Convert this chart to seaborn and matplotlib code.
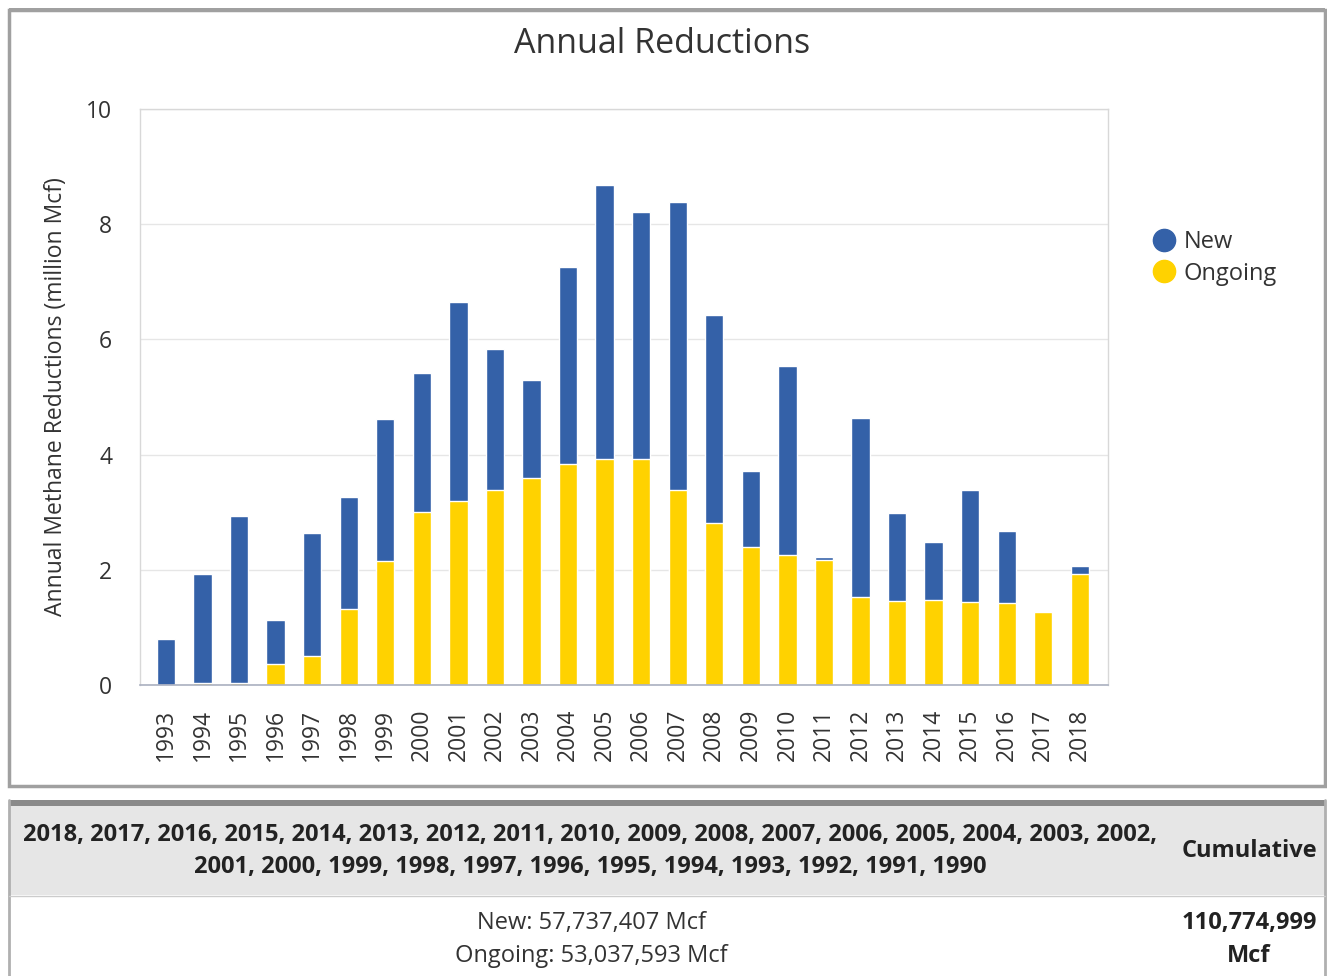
import numpy as np
import pandas as pd
import matplotlib
matplotlib.use("Agg")
import matplotlib.pyplot as plt
from matplotlib.patches import Rectangle
from matplotlib.lines import Line2D
import seaborn as sns

years = [str(y) for y in range(1993, 2019)]
ongoing = [0.0, 0.03, 0.03, 0.36, 0.51, 1.32, 2.16, 3.00, 3.20, 3.38, 3.59, 3.83, 3.92,
           3.93, 3.38, 2.81, 2.39, 2.26, 2.17, 1.53, 1.45, 1.47, 1.44, 1.42, 1.26, 1.93]
new = [0.79, 1.89, 2.90, 0.77, 2.13, 1.94, 2.45, 2.42, 3.45, 2.46, 1.71, 3.42, 4.76,
       4.28, 5.00, 3.62, 1.33, 3.28, 0.05, 3.11, 1.53, 1.02, 1.94, 1.25, 0.0, 0.14]
header_years = "2018, 2017, 2016, 2015, 2014, 2013, 2012, 2011, 2010, 2009, 2008, 2007, 2006, 2005, 2004, 2003, 2002,\n2001, 2000, 1999, 1998, 1997, 1996, 1995, 1994, 1993, 1992, 1991, 1990"
summary = "New: 57,737,407 Mcf\nOngoing: 53,037,593 Mcf"
cumulative = "110,774,999\nMcf"

blue = "#3461a8"
yellow = "#ffd200"

sns.set_style("white")
plt.rcParams["font.family"] = ["Open Sans", "DejaVu Sans"]

df = pd.DataFrame({"year": years, "ongoing": ongoing, "new": new})
df["total"] = df["ongoing"] + df["new"]

W, H = 1327, 976
fig = plt.figure(figsize=(W / 100, H / 100), dpi=100)

def fx(x):
    return x / W

def fy(y):
    return 1 - y / H

ax = fig.add_axes([fx(140), fy(685), fx(1108) - fx(140), fy(109) - fy(685)])

# stacked bars: total in blue, ongoing drawn over it in yellow
sns.barplot(data=df, x="year", y="total", color=blue, width=0.5, saturation=1,
            edgecolor="white", linewidth=1, ax=ax)
sns.barplot(data=df, x="year", y="ongoing", color=yellow, width=0.5, saturation=1,
            edgecolor="white", linewidth=1, ax=ax)

ax.set_xlim(-0.71, 25.77)
ax.set_ylim(0, 10)
ax.set_yticks([0, 2, 4, 6, 8, 10])
ax.yaxis.grid(True, color="#e6e6e6", linewidth=1)
ax.set_axisbelow(True)
for side in ["top", "right", "left"]:
    ax.spines[side].set_color("#d8d8d8")
    ax.spines[side].set_linewidth(1)
ax.spines["bottom"].set_color("#aab0c0")
ax.spines["bottom"].set_linewidth(1.2)
ax.tick_params(axis="x", length=12, width=1, color="#aab0c0", pad=5,
               labelsize=16.5, labelcolor="#333333", rotation=90)
ax.tick_params(axis="y", length=0, pad=20, labelsize=16.5, labelcolor="#333333")
ax.set_xlabel("")
ax.set_ylabel("Annual Methane Reductions (million Mcf)", fontsize=16.5, color="#333333", labelpad=13)

fig.text(fx(662), fy(44), "Annual Reductions", ha="center", va="center", fontsize=24.5, color="#333333")

handles = [Line2D([], [], marker="o", linestyle="", markersize=16, color=blue),
           Line2D([], [], marker="o", linestyle="", markersize=16, color=yellow)]
fig.legend(handles, ["New", "Ongoing"], loc="center left", bbox_to_anchor=(fx(1142), fy(258)),
           frameon=False, fontsize=17, handletextpad=0.25, labelspacing=0.3,
           labelcolor="#333333", borderaxespad=0, handlelength=1.1)

# chart frame
fig.patches.append(Rectangle((fx(9), fy(786)), fx(1316), fy(10) - fy(786), transform=fig.transFigure,
                             fill=False, edgecolor="#a0a0a0", linewidth=2.5))
fig.patches.append(Rectangle((fx(9), fy(11)), fx(1316), fy(8) - fy(11), transform=fig.transFigure,
                             facecolor="#a0a0a0", edgecolor="none"))

# summary table
fig.patches.append(Rectangle((fx(9), fy(895)), fx(1316), fy(806) - fy(895), transform=fig.transFigure,
                             facecolor="#e6e6e6", edgecolor="none"))
fig.patches.append(Rectangle((fx(9), fy(806)), fx(1316), fy(800) - fy(806), transform=fig.transFigure,
                             facecolor="#8a8a8a", edgecolor="none"))
fig.add_artist(Line2D([fx(9), fx(9)], [fy(800), 0], transform=fig.transFigure, color="#b0b0b0", linewidth=2))
fig.add_artist(Line2D([fx(1325), fx(1325)], [fy(800), 0], transform=fig.transFigure, color="#b0b0b0", linewidth=2))
fig.add_artist(Line2D([fx(9), fx(1325)], [fy(896), fy(896)], transform=fig.transFigure, color="#cccccc", linewidth=1))

fig.text(fx(590), fy(851), header_years, ha="center", va="center", fontsize=17, fontweight="bold",
         color="#222222", linespacing=1.5)
fig.text(fx(1249), fy(851), "Cumulative", ha="center", va="center", fontsize=17, fontweight="bold",
         color="#222222")
fig.text(fx(591), fy(939), summary, ha="center", va="center", fontsize=17, color="#333333",
         linespacing=1.5)
fig.text(fx(1249), fy(939), cumulative, ha="center", va="center", fontsize=17, fontweight="bold",
         color="#222222", linespacing=1.5)

fig.savefig("out.png", dpi=100)
